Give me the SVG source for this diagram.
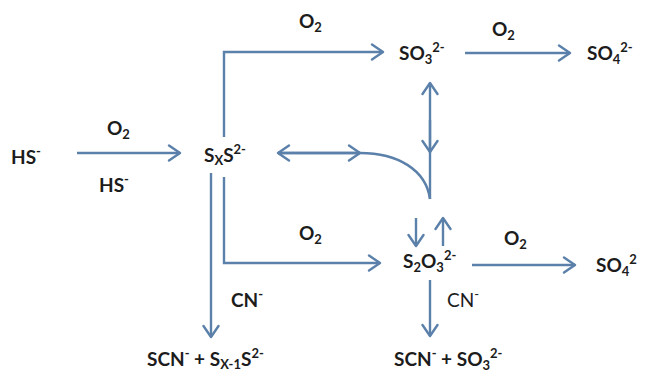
<svg xmlns="http://www.w3.org/2000/svg" width="646" height="380" viewBox="0 0 646 380">
<defs>
<marker id="ah" markerUnits="userSpaceOnUse" markerWidth="18" markerHeight="18" viewBox="-13 -9 15 18" refX="0" refY="0" orient="auto-start-reverse">
<path d="M-11,-7.5 L0,0 L-11,7.5" fill="none" stroke="#5b80aa" stroke-width="2.4" stroke-linecap="round" stroke-linejoin="round"/>
</marker>
<style>
.t{font-family:Lato,"Liberation Sans",sans-serif;font-weight:bold;font-size:19px;fill:#1c1c1c}
.r{font-weight:normal}
.s{font-size:13px}
.c{fill:none;stroke:#5b80aa;stroke-width:2.4}
.a{marker-end:url(#ah)}
</style>
</defs>
<rect width="646" height="380" fill="#ffffff"/>
<g id="connectors">
<path class="c a" d="M77,153 H180"/>
<path class="c a" d="M224,137 V52 H383"/>
<path class="c a" d="M465,53 H570"/>
<path class="c a" d="M360,153 H278"/>
<path class="c a" d="M278,153 H360"/>
<path class="c" d="M360,153 C398,153 426,170 430,199"/>
<path class="c a" d="M430,199 V83"/>
<path class="c a" d="M430,120 V152"/>
<path class="c a" d="M416,218 V246"/>
<path class="c a" d="M443,246 V218"/>
<path class="c a" d="M224,177 V263 H380"/>
<path class="c a" d="M211,173 V337"/>
<path class="c a" d="M472,265 H575"/>
<path class="c a" d="M430,280 V336"/>
</g>
<g id="hs"><text class="t" x="11" y="164">HS<tspan class="s" dy="-8">-</tspan></text></g>
<g id="lbl-o2-1"><text class="t" x="107" y="135">O<tspan class="s" dy="4">2</tspan></text></g>
<g id="lbl-hs"><text class="t" x="99" y="192">HS<tspan class="s" dy="-8">-</tspan></text></g>
<g id="sxs"><text class="t" x="204" y="162">S<tspan class="s" dy="3">X</tspan><tspan dy="-3">S</tspan><tspan class="s" dy="-8">2-</tspan></text></g>
<g id="lbl-o2-2"><text class="t" x="299" y="28">O<tspan class="s" dy="4">2</tspan></text></g>
<g id="so3"><text class="t" x="399" y="60">SO<tspan class="s" dy="4">3</tspan><tspan class="s" dy="-12">2-</tspan></text></g>
<g id="lbl-o2-3"><text class="t" x="492" y="36">O<tspan class="s" dy="4">2</tspan></text></g>
<g id="so4-top"><text class="t" x="587" y="60">SO<tspan class="s" dy="4">4</tspan><tspan class="s" dy="-12">2-</tspan></text></g>
<g id="lbl-o2-4"><text class="t" x="299" y="240">O<tspan class="s" dy="4">2</tspan></text></g>
<g id="s2o3"><text class="t" x="403" y="268">S<tspan class="s" dy="4">2</tspan><tspan dy="-4">O</tspan><tspan class="s" dy="4">3</tspan><tspan class="s" dy="-12">2-</tspan></text></g>
<g id="lbl-o2-5"><text class="t" x="504" y="245">O<tspan class="s" dy="4">2</tspan></text></g>
<g id="so4-bottom"><text class="t" x="596" y="272">SO<tspan class="s" dy="4">4</tspan><tspan class="s" dy="-12">2</tspan></text></g>
<g id="lbl-cn-1"><text class="t" x="231" y="307">CN<tspan class="s" dy="-8">-</tspan></text></g>
<g id="lbl-cn-2"><text class="t r" x="447" y="307">CN<tspan class="s" dy="-8">-</tspan></text></g>
<g id="prod-1"><text class="t" x="147" y="366">SCN<tspan class="s" dy="-8">-</tspan><tspan dy="8"> + S</tspan><tspan class="s" dy="3">X-1</tspan><tspan dy="-3">S</tspan><tspan class="s" dy="-8">2-</tspan></text></g>
<g id="prod-2"><text class="t" x="394" y="366">SCN<tspan class="s" dy="-8">-</tspan><tspan dy="8"> + SO</tspan><tspan class="s" dy="4">3</tspan><tspan class="s" dy="-12">2-</tspan></text></g>
</svg>
